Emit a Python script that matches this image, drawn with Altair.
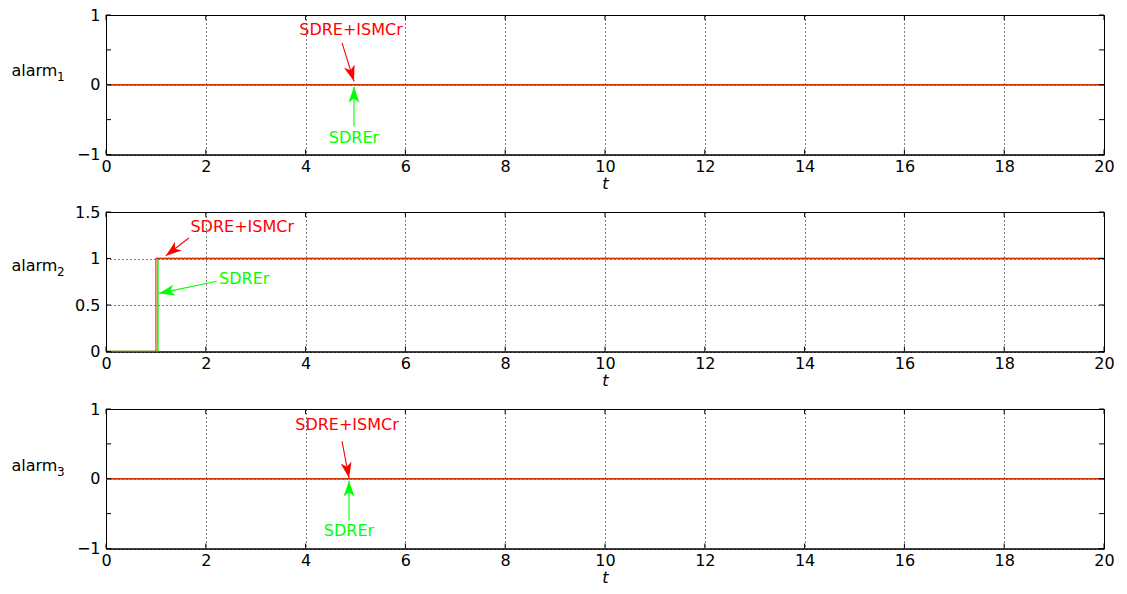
import math
import altair as alt
import pandas as pd

FONT = "DejaVu Sans"
FS = 16
W, H = 998, 139.5

# ---- data ----
t_p1 = [0, 20]
v_p1 = [0, 0]
t_p2_red = [0, 1.0, 1.0, 20]
v_p2_red = [0, 0, 1, 1]
t_p2_green = [0, 1.04, 1.04, 20]
v_p2_green = [0, 0, 1, 1]
t_p3 = [0, 20]
v_p3 = [0, 0]

y_domains = [(-1, 1), (0, 1.5), (-1, 1)]
y_ticks = [[-1, -0.5, 0, 0.5, 1], [0, 0.5, 1, 1.5], [-1, -0.5, 0, 0.5, 1]]
x_ticks = [0, 2, 4, 6, 8, 10, 12, 14, 16, 18, 20]
title_main = "alarm"
title_sub = ["1", "2", "3"]
title_y = [55, 53, 56]

# annotations per panel: (label, color, text_t, text_v, tail_t, tail_v, tip_t, tip_v)
annots = [
    [("SDRE+ISMCr", "#ff0000", 4.91, 0.79, 4.73, 0.60, 4.97, 0.05),
     ("SDREr", "#00ff00", 4.97, -0.76, 4.97, -0.60, 4.97, -0.03)],
    [("SDRE+ISMCr", "#ff0000", 2.73, 1.34, 1.66, 1.22, 1.20, 1.03),
     ("SDREr", "#00ff00", 2.77, 0.78, 2.22, 0.755, 1.06, 0.625)],
    [("SDRE+ISMCr", "#ff0000", 4.83, 0.77, 4.73, 0.54, 4.87, 0.01),
     ("SDREr", "#00ff00", 4.87, -0.75, 4.87, -0.60, 4.87, -0.03)],
]
series = [
    [(t_p1, v_p1, "#00ff00"), (t_p1, v_p1, "#ff0000")],
    [(t_p2_green, v_p2_green, "#00ff00"), (t_p2_red, v_p2_red, "#ff0000")],
    [(t_p3, v_p3, "#00ff00"), (t_p3, v_p3, "#ff0000")],
]

ARROW = "M0,0 L0.7,2 L0,1.45 L-0.7,2 Z"


def panel(i):
    ylo, yhi = y_domains[i]
    xs = alt.Scale(domain=[0, 20], nice=False, zero=False)
    ys = alt.Scale(domain=[ylo, yhi], nice=False, zero=False)
    xax = alt.Axis(values=x_ticks, title="t", titleFontStyle="italic",
                   titleFontWeight="normal", titleFontSize=FS, titleFont=FONT,
                   labelFont=FONT, labelFontSize=FS, labelColor="black",
                   labelPadding=4, titlePadding=1, titleColor="black",
                   grid=True, gridDash=[1, 3], gridColor="black", gridOpacity=1,
                   tickSize=0, domainColor="black", labelFlush=False, format="~g")
    yax = alt.Axis(values=y_ticks[i], title=title_main, titleAngle=0,
                   titleAlign="left", titleBaseline="middle", titleX=-95,
                   titleY=title_y[i], titleFont=FONT, titleFontSize=FS,
                   titleFontWeight="normal", titleColor="black",
                   labelFont=FONT, labelFontSize=FS, labelColor="black",
                   labelPadding=6, grid=True, gridDash=[1, 3], gridColor="black",
                   gridOpacity=1, tickSize=0, domainColor="black",
                   labelFlush=False, format="~g")
    layers = []
    for k, (tt, vv, col) in enumerate(series[i]):
        df = pd.DataFrame({"t": tt, "v": vv, "o": list(range(len(tt)))})
        ln = alt.Chart(df).mark_line(
            color=col, strokeWidth=1.6 if k == 0 else 1.3,
            opacity=1.0 if k == 0 else 0.8, clip=True
        ).encode(
            x=alt.X("t:Q", scale=xs, axis=xax),
            y=alt.Y("v:Q", scale=ys, axis=yax),
            order="o:Q",
        )
        layers.append(ln)

    # subscript of the y title
    sub = pd.DataFrame({"s": [title_sub[i]]})
    layers.append(alt.Chart(sub).mark_text(
        font=FONT, fontSize=12, align="left", baseline="middle", color="black"
    ).encode(text="s:N", x=alt.value(-49), y=alt.value(title_y[i] + 7)))

    # inner tick marks (MATLAB style, on all four sides)
    xt = pd.DataFrame({"t": x_ticks})
    yt = pd.DataFrame({"v": y_ticks[i]})
    tick_style = dict(color="black", strokeWidth=1)
    layers.append(alt.Chart(xt).mark_rule(**tick_style).encode(
        x=alt.X("t:Q", scale=xs), y=alt.value(H), y2=alt.value(H - 5)))
    layers.append(alt.Chart(xt).mark_rule(**tick_style).encode(
        x=alt.X("t:Q", scale=xs), y=alt.value(0), y2=alt.value(5)))
    layers.append(alt.Chart(yt).mark_rule(**tick_style).encode(
        y=alt.Y("v:Q", scale=ys), x=alt.value(0), x2=alt.value(5)))
    layers.append(alt.Chart(yt).mark_rule(**tick_style).encode(
        y=alt.Y("v:Q", scale=ys), x=alt.value(W), x2=alt.value(W - 5)))

    rows = []
    for (lab, col, tx, tv, at, av, pt, pv) in annots[i]:
        dx = (pt - at) / 20 * W
        dy = -(pv - av) / (yhi - ylo) * H
        ang = math.degrees(math.atan2(dx, -dy)) % 360
        rows.append({"lab": lab, "col": col, "tx": tx, "tv": tv, "at": at,
                     "av": av, "pt": pt, "pv": pv, "ang": ang})
    adf = pd.DataFrame(rows)
    base = alt.Chart(adf)
    shafts = base.mark_rule(strokeWidth=1.1).encode(
        x=alt.X("at:Q", scale=xs), y=alt.Y("av:Q", scale=ys),
        x2="pt:Q", y2="pv:Q",
        color=alt.Color("col:N", scale=None),
    )
    heads = base.mark_point(shape=ARROW, filled=True, size=250, opacity=1,
                            strokeWidth=0).encode(
        x=alt.X("pt:Q", scale=xs), y=alt.Y("pv:Q", scale=ys),
        angle=alt.Angle("ang:Q", scale=None),
        color=alt.Color("col:N", scale=None),
    )
    texts = base.mark_text(font=FONT, fontSize=FS, baseline="middle",
                           align="center").encode(
        x=alt.X("tx:Q", scale=xs), y=alt.Y("tv:Q", scale=ys),
        text="lab:N",
        color=alt.Color("col:N", scale=None),
    )
    layers += [shafts, heads, texts]
    return alt.layer(*layers).properties(width=W, height=H)


chart = alt.vconcat(panel(0), panel(1), panel(2), spacing=11).properties(
    padding={"left": 10, "top": 6, "right": 5, "bottom": 5},
    background="white",
).configure_view(stroke="black", strokeWidth=1)

chart.save("out.html", embed_options={"renderer": "svg", "actions": False})
